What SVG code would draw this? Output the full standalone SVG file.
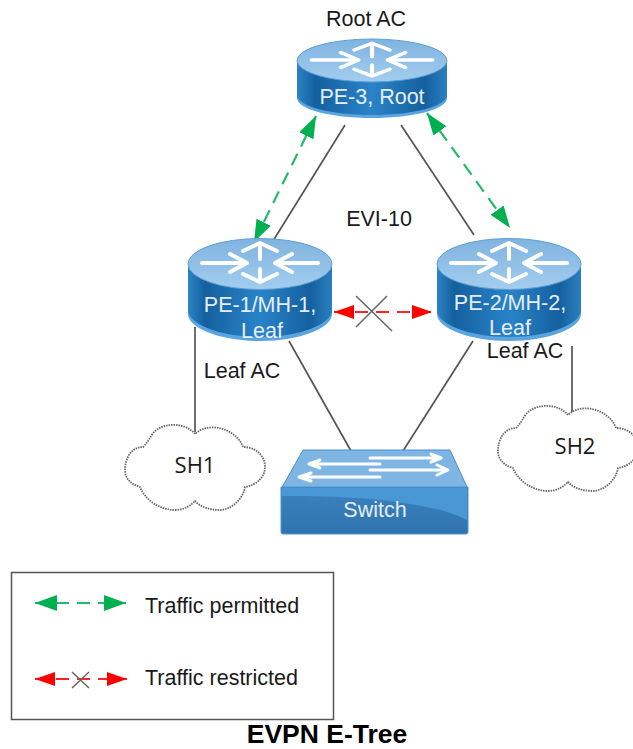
<svg xmlns="http://www.w3.org/2000/svg" xmlns:xlink="http://www.w3.org/1999/xlink" width="633" height="749" viewBox="0 0 633 749">
<style>
text{font-family:"Liberation Sans",Arial,sans-serif;font-size:21.500px;fill:#1a1a1a}
.w{fill:#e4eef8}
.c{font-family:"Open Sans","DejaVu Sans",sans-serif;font-size:22px}
.l{stroke:#555;stroke-width:1.700;fill:none}
.g{stroke:#22bb6a;stroke-width:2.200;stroke-dasharray:13 8;fill:none}
.r{stroke:#f22;stroke-width:2.200;stroke-dasharray:13 8;fill:none}
.x{stroke:#666;stroke-width:1.500;fill:none}
.ar{stroke:#fff;stroke-width:4;fill:none;stroke-linecap:round;stroke-linejoin:round}
.ar2{stroke:#fff;stroke-width:3;fill:none;stroke-linecap:round;stroke-linejoin:round}
.cl{fill:#fff;stroke:#666;stroke-width:1.800;stroke-dasharray:1.500 1}
</style>
<defs>
<linearGradient id="body" x1="0" x2="1" y1="0" y2="0">
<stop offset="0" stop-color="#2b83c4"/><stop offset=".12" stop-color="#14609f"/><stop offset=".5" stop-color="#2a83c8"/><stop offset=".85" stop-color="#14609f"/><stop offset="1" stop-color="#2b7fbe"/>
</linearGradient>
<linearGradient id="top" x1="0" x2="0" y1="0" y2="1">
<stop offset="0" stop-color="#7fb3e0"/><stop offset="1" stop-color="#a3cdee"/>
</linearGradient>
<linearGradient id="sw" x1="0" x2="0" y1="0" y2="1">
<stop offset="0" stop-color="#3a82bf"/><stop offset="1" stop-color="#2f74ae"/>
</linearGradient>
<g id="router">
<path d="M0 26V76C0 90 32 103 72 103S144 90 144 76V26Z" fill="#5aa5e0"/>
<path d="M0 26V72C0 86 32 99 72 99S144 86 144 72V26Z" fill="url(#body)"/>
<ellipse cx="72" cy="26" rx="72" ry="25.500" fill="url(#top)" stroke="#5c9fd6" stroke-width="1"/>
<path id="rarrows" class="ar" d="M14 25H58M42 16L59 25L42 34M130 25H88M104 16L87 25L104 34M72 44V31M72 8V21M55 13L72 5L89 13M55 36L72 44L89 36"/>
</g>
<path id="cloud" d="M70 9C60 -3 38 -3 28 8C22 18 20 20 18 22C5 22 0 35 0 45C0 55 8 60 15 62C20 75 35 85 50 85C60 85 66 80 70 76C75 82 85 85 95 85C105 85 118 75 120 62C132 60 140 52 140 42C140 30 130 22 118 22C112 5 85 -5 70 9Z"/>
<marker id="gb" viewBox="0 0 22 16" refX="22" refY="8" markerWidth="22" markerHeight="16" markerUnits="userSpaceOnUse" orient="auto-start-reverse"><path d="M0 0L22 8L0 16Z" fill="#00b050"/></marker>
<marker id="rb" viewBox="0 0 20 14" refX="20" refY="7" markerWidth="20" markerHeight="14" markerUnits="userSpaceOnUse" orient="auto-start-reverse"><path d="M0 0L20 7L0 14Z" fill="#f00"/></marker>
</defs>
<g id="connectors">
<path class="l" d="M345 125L273 241M401 125L474 235M195 327V432M572 346V415M289 341L351 451M473 341L403 451"/>
<path class="g" marker-start="url(#gb)" marker-end="url(#gb)" d="M316 116L254 242"/>
<path class="g" marker-start="url(#gb)" marker-end="url(#gb)" d="M427 113L510 228"/>
<path class="r" marker-start="url(#rb)" marker-end="url(#rb)" d="M334 312H432"/>
<path class="x" d="M356 296L392 331M387 296L356 327"/>
</g>
<g id="pe3">
<path d="M297 60V98C297 109 330 118 372 118S447 109 447 98V60Z" fill="#5aa5e0"/>
<path d="M297 60V95C297 106 330 115 372 115S447 106 447 95V60Z" fill="url(#body)"/>
<ellipse cx="372" cy="60.500" rx="75" ry="21.500" fill="url(#top)" stroke="#5c9fd6" stroke-width="1"/>
<use href="#rarrows" transform="translate(297 39) scale(1.042 .84)"/>
<text class="w" x="372" y="104" text-anchor="middle">PE-3, Root</text>
</g>
<g id="pe1"><use href="#router" x="188" y="238"/><text class="w" x="260" y="312" text-anchor="middle">PE-1/MH-1,</text><text class="w" x="262" y="338" text-anchor="middle">Leaf</text></g>
<g id="pe2"><use href="#router" x="437" y="238"/><text class="w" x="510" y="310" text-anchor="middle">PE-2/MH-2,</text><text class="w" x="510" y="335" text-anchor="middle">Leaf</text></g>
<g id="switch">
<path d="M281 489L303 450H450L468 489Z" fill="#7fb5e2" stroke="#4a90cc"/>
<path class="ar2" d="M370 458H440M431 454L441 458L431 462M370 470H447M437 465L448 470L437 475M380 464H310M320 460L309 464L320 468M380 477H300M311 473L299 477L311 481"/>
<path d="M281 487H468V532Q468 534 466 534H283Q281 534 281 532Z" fill="url(#sw)" stroke="#4a97d6"/>
<path d="M282 488H467V520C430 500 340 495 282 496Z" fill="#4a97d6"/>
<text class="w" x="375" y="517" text-anchor="middle">Switch</text>
</g>
<g id="sh1"><use href="#cloud" class="cl" transform="translate(125 425)"/><text class="c" x="195" y="473" text-anchor="middle">SH1</text></g>
<g id="sh2"><use href="#cloud" class="cl" transform="translate(498 406)"/><text class="c" x="575" y="454" text-anchor="middle">SH2</text></g>
<g id="labels">
<text x="366" y="26" text-anchor="middle">Root AC</text>
<text x="379" y="226" text-anchor="middle">EVI-10</text>
<text x="242" y="378" text-anchor="middle">Leaf AC</text>
<text x="525" y="358" text-anchor="middle">Leaf AC</text>
</g>
<g id="legend">
<rect x="11.500" y="572.500" width="322" height="147" fill="#fff" stroke="#555" stroke-width="1.500"/>
<path class="g" marker-start="url(#gb)" marker-end="url(#gb)" d="M35 603H126"/>
<path class="r" marker-start="url(#rb)" marker-end="url(#rb)" d="M35 679H127"/>
<path class="x" d="M72 672L89 688M89 672L72 688"/>
<text x="145" y="613">Traffic permitted</text>
<text x="145" y="685">Traffic restricted</text>
</g>
<text x="327" y="743" text-anchor="middle" style="font-weight:bold;font-size:26.500px;fill:#000">EVPN E-Tree</text>
</svg>
